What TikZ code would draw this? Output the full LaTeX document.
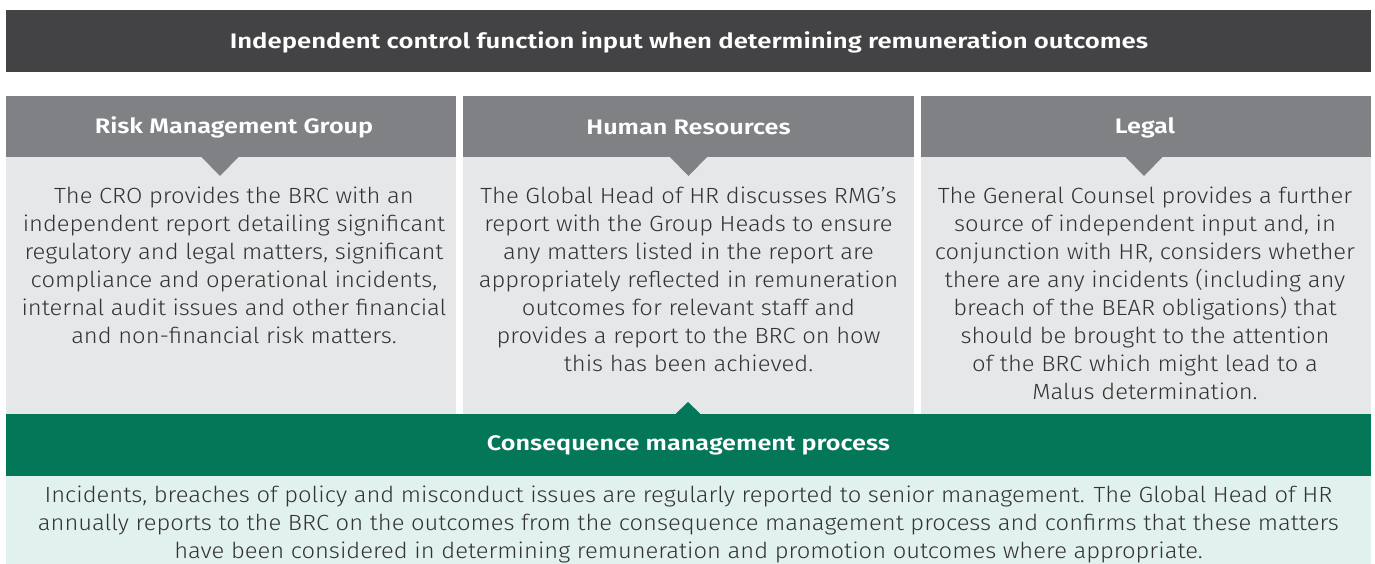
\documentclass[tikz,border=0pt]{standalone}
\usepackage{fontspec}
\setmainfont{Fira Sans}[UprightFont=* Light, BoldFont=* SemiBold]
\newfontfamily\bodyfont{Fira Sans}[UprightFont=* Light, FakeStretch=1.08]
\newfontfamily\headfont{Fira Sans}[UprightFont=* SemiBold, FakeStretch=1.2]
\newfontfamily\titlefont{Fira Sans}[UprightFont=* SemiBold, FakeStretch=1.225]
\definecolor{titlebg}{HTML}{434345}
\definecolor{headbg}{HTML}{808184}
\definecolor{bodybg}{HTML}{E6E7E8}
\definecolor{greenbg}{HTML}{047759}
\definecolor{palebg}{HTML}{E1F1EE}
\definecolor{txt}{HTML}{333333}
\tikzset{
  panel/.style={anchor=north west, inner sep=0pt, outer sep=0pt, draw=none},
  boldtxt/.style={text=white, font=\headfont\fontsize{21}{24}\selectfont, inner sep=0pt},
  titletxt/.style={text=white, font=\titlefont\fontsize{21}{24}\selectfont, inner sep=0pt},
  bodytxt/.style={text=txt, align=center, font=\bodyfont\fontsize{22}{28}\selectfont, inner sep=0pt},
}
\begin{document}
\begin{tikzpicture}[x=1pt,y=-1pt]
\useasboundingbox (0,0) rectangle (1375,564);
% title
\node[panel, fill=titlebg, minimum width=1365pt, minimum height=62pt] (title) at (6,10) {};
\node[titletxt] (titletext) at (689,42.5) {Independent control function input when determining remuneration outcomes};
% columns
\node[panel, fill=headbg, minimum width=450.3pt, minimum height=61pt] (h1) at (6,96) {};
\node[panel, fill=headbg, minimum width=450.3pt, minimum height=61pt] (h2) at (463.3,96) {};
\node[panel, fill=headbg, minimum width=450.3pt, minimum height=61pt] (h3) at (920.7,96) {};
\node[panel, fill=bodybg, minimum width=450.3pt, minimum height=257pt] (b1) at (6,157) {};
\node[panel, fill=bodybg, minimum width=450.3pt, minimum height=257pt] (b2) at (463.3,157) {};
\node[panel, fill=bodybg, minimum width=450.3pt, minimum height=257pt] (b3) at (920.7,157) {};
% pointers
\fill[headbg] (201,156.5) -- (239,156.5) -- (220,176) -- cycle;
\fill[headbg] (669.5,156.5) -- (707.5,156.5) -- (688.5,176) -- cycle;
\fill[headbg] (1125,156.5) -- (1163,156.5) -- (1144,176) -- cycle;
% header texts
\node[boldtxt] (h1t) at (234,127.5) {Risk Management Group};
\node[boldtxt] (h2t) at (688.5,127.5) {Human Resources};
\node[boldtxt] (h3t) at (1145,127.5) {Legal};
% body texts
\node[bodytxt] (b1t) at (234,265) {The CRO provides the BRC with an\\independent report detailing significant\\regulatory and legal matters, significant\\compliance and operational incidents,\\internal audit issues and other financial\\and non-financial risk matters.};
\node[bodytxt] (b2t) at (688.5,279) {The Global Head of HR discusses RMG’s\\report with the Group Heads to ensure\\any matters listed in the report are\\appropriately reflected in remuneration\\outcomes for relevant staff and\\provides a report to the BRC on how\\this has been achieved.};
\node[bodytxt] (b3t) at (1145,293) {The General Counsel provides a further\\source of independent input and, in\\conjunction with HR, considers whether\\there are any incidents (including any\\breach of the BEAR obligations) that\\should be brought to the attention\\of the BRC which might lead to a\\Malus determination.};
% consequence
\node[panel, fill=greenbg, minimum width=1365pt, minimum height=62pt] (green) at (6,414) {};
\fill[greenbg] (675,414.5) -- (701,414.5) -- (688,402) -- cycle;
\node[boldtxt] (greent) at (688.5,445.5) {Consequence management process};
\node[panel, fill=palebg, minimum width=1365pt, minimum height=88pt] (pale) at (6,476) {};
\node[bodytxt] (palet) at (688.5,524) {Incidents, breaches of policy and misconduct issues are regularly reported to senior management. The Global Head of HR\\annually reports to the BRC on the outcomes from the consequence management process and confirms that these matters\\have been considered in determining remuneration and promotion outcomes where appropriate.};
\end{tikzpicture}
\end{document}
